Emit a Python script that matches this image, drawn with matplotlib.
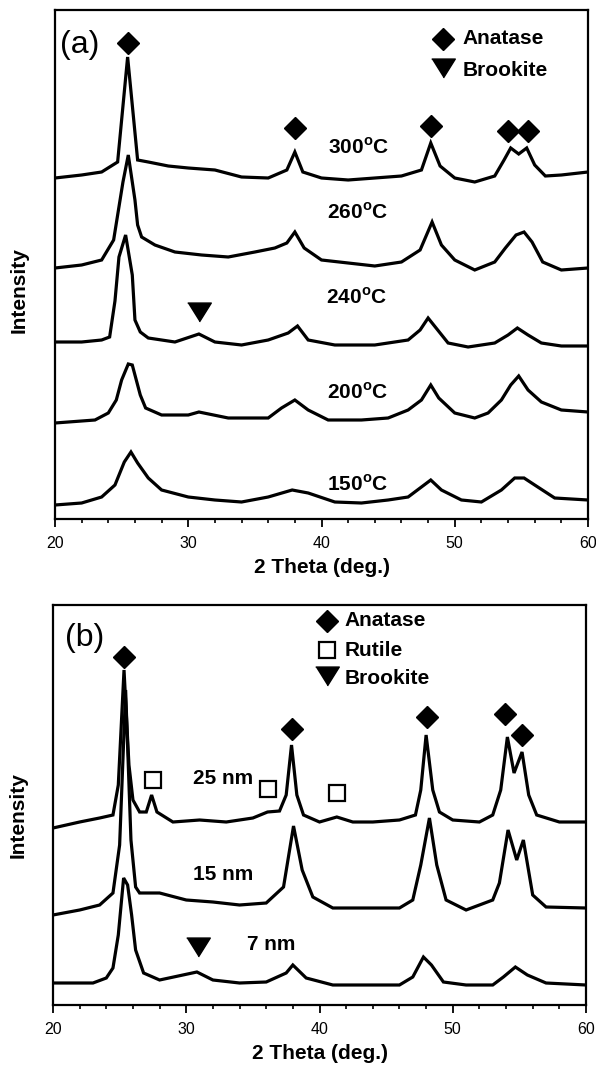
import matplotlib
matplotlib.use("Agg")
import matplotlib.pyplot as plt

plt.rcParams["font.family"] = ["Liberation Sans", "DejaVu Sans"]
plt.rcParams["mathtext.fontset"] = "custom"
plt.rcParams["mathtext.rm"] = "Liberation Sans"
plt.rcParams["mathtext.bf"] = "Liberation Sans:bold"

# ---- panel (a): XRD traces (stacked, arbitrary units) ----
x_300 = [20, 22, 23.5, 24.7, 25.45, 26.2, 27, 28.5, 30, 32, 34, 36, 37.4, 38.0, 38.6, 40, 42, 44, 46,
         47.5, 48.2, 48.9, 50, 51.5, 53, 53.7, 54.2, 54.8, 55.4, 56, 56.8, 58, 60]
y_300 = [359, 362, 365, 375, 480, 377, 375, 371, 369, 367, 360, 359, 367, 385, 365, 359, 357, 359, 361,
         367, 394, 371, 359, 355, 361, 377, 389, 383, 389, 372, 361, 362, 365]

x_260 = [20, 22, 23.5, 24.4, 25.1, 25.5, 26.0, 26.2, 26.5, 27.5, 29, 31, 33, 35, 36.5, 37.4, 38.0, 38.7,
         40, 42, 44, 46, 47.4, 48.3, 49, 50, 51.5, 53, 53.8, 54.6, 55.2, 55.8, 56.6, 58, 60]
y_260 = [269, 272, 277, 297, 355, 382, 337, 312, 300, 292, 285, 282, 280, 285, 289, 294, 305, 289,
         277, 274, 271, 275, 287, 315, 292, 277, 267, 275, 289, 302, 305, 295, 275, 267, 269]

x_240 = [20, 22, 23.5, 24.1, 24.5, 24.8, 25.3, 25.8, 26.0, 26.4, 27, 29, 30.8, 32, 34, 36, 37.5, 38.2,
         39, 41, 44, 46.5, 47.4, 48.0, 48.6, 49.5, 51, 53, 54, 54.7, 55.5, 56.5, 58, 60]
y_240 = [195, 195, 197, 200, 236, 280, 302, 262, 217, 205, 199, 195, 203, 195, 192, 197, 204, 211,
         197, 192, 192, 197, 207, 219, 209, 194, 190, 194, 202, 209, 202, 194, 191, 191]

x_200 = [20, 23, 24, 24.6, 25.0, 25.5, 25.8, 26.1, 26.4, 26.8, 28, 30, 30.8, 33, 36, 37, 38, 39, 40.5,
         43, 45, 46.5, 47.5, 48.2, 48.8, 50, 51.5, 52.5, 53.5, 54.2, 54.8, 55.5, 56.5, 58, 60]
y_200 = [114, 117, 124, 137, 157, 173, 172, 157, 142, 129, 122, 122, 125, 119, 119, 129, 137, 127, 117,
         117, 119, 127, 137, 152, 139, 124, 119, 124, 137, 152, 161, 147, 135, 127, 125]

x_150 = [20, 22, 23.5, 24.5, 25.2, 25.7, 26.2, 27, 28, 30, 32, 34, 36, 37.8, 39, 41, 43, 45, 46.5,
         47.5, 48.2, 49, 50.5, 52, 53.5, 54.5, 55.2, 56, 57.5, 60]
y_150 = [32, 34, 40, 52, 75, 85, 74, 59, 47, 40, 37, 35, 40, 47, 44, 35, 34, 37, 40,
         50, 57, 47, 37, 35, 47, 59, 59, 52, 39, 37]

labels_a = ["300", "260", "240", "200", "150"]
label_x_a = [42.8, 42.7, 42.6, 42.7, 42.7]
label_y_a = [390, 325, 240, 145, 53]

anatase_x_a = [25.45, 38.0, 48.2, 54.0, 55.5]
anatase_y_a = [494, 409, 411, 406, 406]
brookite_x_a = [30.8]
brookite_y_a = [225]

# ---- panel (b) ----
x_25 = [20, 22, 23.5, 24.5, 24.9, 25.33, 25.7, 26.0, 26.5, 27.0, 27.4, 27.8, 29, 31, 33, 35, 36.1, 37.0,
        37.5, 37.9, 38.3, 38.8, 40, 41.3, 42.5, 44, 46, 47.2, 47.6, 48.0, 48.5, 49, 50, 52, 53, 53.6,
        54.1, 54.6, 55.2, 55.7, 56.3, 58, 60]
y_25 = [177, 183, 187, 190, 220, 335, 240, 205, 193, 193, 210, 193, 183, 185, 183, 187, 193, 194,
        210, 260, 210, 190, 183, 188, 183, 183, 185, 190, 215, 270, 215, 193, 185, 183, 190, 215,
        268, 232, 253, 210, 190, 183, 183]

x_15 = [20, 22, 23.5, 24.5, 25.0, 25.45, 25.85, 26.2, 26.5, 28, 30, 32, 34, 36, 37.3, 38.05, 38.7, 39.5,
        41, 44, 46, 47, 47.6, 48.25, 48.8, 49.5, 51, 53, 53.5, 54.15, 54.8, 55.3, 56.0, 57, 60]
y_15 = [90, 95, 100, 112, 160, 315, 165, 118, 112, 112, 105, 103, 100, 102, 118, 179, 135, 108,
        97, 97, 97, 105, 140, 187, 140, 105, 95, 105, 122, 175, 145, 165, 110, 98, 97]

x_7 = [20, 23, 24, 24.5, 24.9, 25.3, 25.6, 25.9, 26.2, 26.8, 28, 30.8, 32, 34, 36, 37.5, 38, 39, 41, 44,
       46, 47, 47.8, 48.4, 49.3, 51, 53, 53.8, 54.7, 55.6, 57, 60]
y_7 = [22, 22, 27, 37, 70, 127, 120, 90, 55, 32, 25, 33, 25, 22, 23, 32, 40, 27, 20, 20,
       20, 28, 48, 40, 23, 20, 20, 28, 38, 30, 22, 20]

labels_b = ["25 nm", "15 nm", "7 nm"]
label_x_b = [32.8, 32.8, 36.4]
label_y_b = [227, 130, 60]

anatase_x_b = [25.33, 37.9, 48.1, 53.9, 55.2]
anatase_y_b = [348, 276, 288, 291, 270]
rutile_x_b = [27.5, 36.1, 41.3]
rutile_y_b = [225, 216, 212]
brookite_x_b = [30.9]
brookite_y_b = [58]

TRI = [(-1, 0.8), (1, 0.8), (0, -0.8)]


def style_axis(ax, ylo, yhi):
    ax.set_xlim(20, 60)
    ax.set_ylim(ylo, yhi)
    ax.set_xticks([20, 30, 40, 50, 60])
    ax.set_xticks(range(20, 61, 2), minor=True)
    ax.set_yticks([])
    ax.tick_params(axis="x", which="major", direction="out", length=6, width=1.3,
                   labelsize=11.5, pad=6)
    ax.tick_params(axis="x", which="minor", direction="out", length=3, width=1.2)
    for sp in ax.spines.values():
        sp.set_linewidth(1.6)
    ax.set_xlabel("2 Theta (deg.)", fontsize=15, fontweight="bold", labelpad=5)


fig = plt.figure(figsize=(5.96, 10.66), dpi=100)
ax_a = fig.add_axes([55 / 596, 1 - 519 / 1066, 533 / 596, 509 / 1066])
ax_b = fig.add_axes([53 / 596, 1 - 1005 / 1066, 533 / 596, 400 / 1066])

line_kw = dict(color="black", lw=2.3, solid_joinstyle="miter")

for xs, ys in [(x_300, y_300), (x_260, y_260), (x_240, y_240), (x_200, y_200), (x_150, y_150)]:
    ax_a.plot(xs, ys, **line_kw)
style_axis(ax_a, 18, 527)
ax_a.set_ylabel("Intensity", fontsize=15, fontweight="bold")
ax_a.yaxis.set_label_coords(-0.05, 0.45)

for lab, lx, ly in zip(labels_a, label_x_a, label_y_a):
    ax_a.text(lx, ly, lab + r"$^{\mathbf{o}}$C", fontsize=15, fontweight="bold",
              ha="center", va="center")

ax_a.plot(anatase_x_a, anatase_y_a, "D", color="black", ms=11.5, clip_on=False)
ax_a.plot(brookite_x_a, brookite_y_a, marker=TRI, ls="none", color="black", ms=17)
ax_a.text(0.047, 0.931, "(a)", transform=ax_a.transAxes, fontsize=23, ha="center", va="center")

ax_a.plot([49.1], [498], "D", color="black", ms=11.5)
ax_a.plot([49.1], [469], marker=TRI, ls="none", color="black", ms=17)
ax_a.text(50.6, 498, "Anatase", fontsize=15, fontweight="bold", va="center")
ax_a.text(50.6, 467, "Brookite", fontsize=15, fontweight="bold", va="center")

for xs, ys in [(x_25, y_25), (x_15, y_15), (x_7, y_7)]:
    ax_b.plot(xs, ys, **line_kw)
style_axis(ax_b, 0, 400)
ax_b.set_ylabel("Intensity", fontsize=15, fontweight="bold")
ax_b.yaxis.set_label_coords(-0.047, 0.475)

for lab, lx, ly in zip(labels_b, label_x_b, label_y_b):
    ax_b.text(lx, ly, lab, fontsize=15, fontweight="bold", ha="center", va="center")

ax_b.plot(anatase_x_b, anatase_y_b, "D", color="black", ms=11.5)
ax_b.plot(rutile_x_b, rutile_y_b, "s", mfc="white", mec="black", mew=1.6, ms=11)
ax_b.plot(brookite_x_b, brookite_y_b, marker=TRI, ls="none", color="black", ms=17)
ax_b.text(0.06, 0.918, "(b)", transform=ax_b.transAxes, fontsize=23, ha="center", va="center")

ax_b.plot([40.6], [384], "D", color="black", ms=11.5)
ax_b.plot([40.6], [355], "s", mfc="white", mec="black", mew=1.6, ms=11)
ax_b.plot([40.6], [329], marker=TRI, ls="none", color="black", ms=17)
ax_b.text(41.9, 384, "Anatase", fontsize=15, fontweight="bold", va="center")
ax_b.text(41.9, 355, "Rutile", fontsize=15, fontweight="bold", va="center")
ax_b.text(41.9, 327, "Brookite", fontsize=15, fontweight="bold", va="center")

fig.savefig("out.png", dpi=100)
